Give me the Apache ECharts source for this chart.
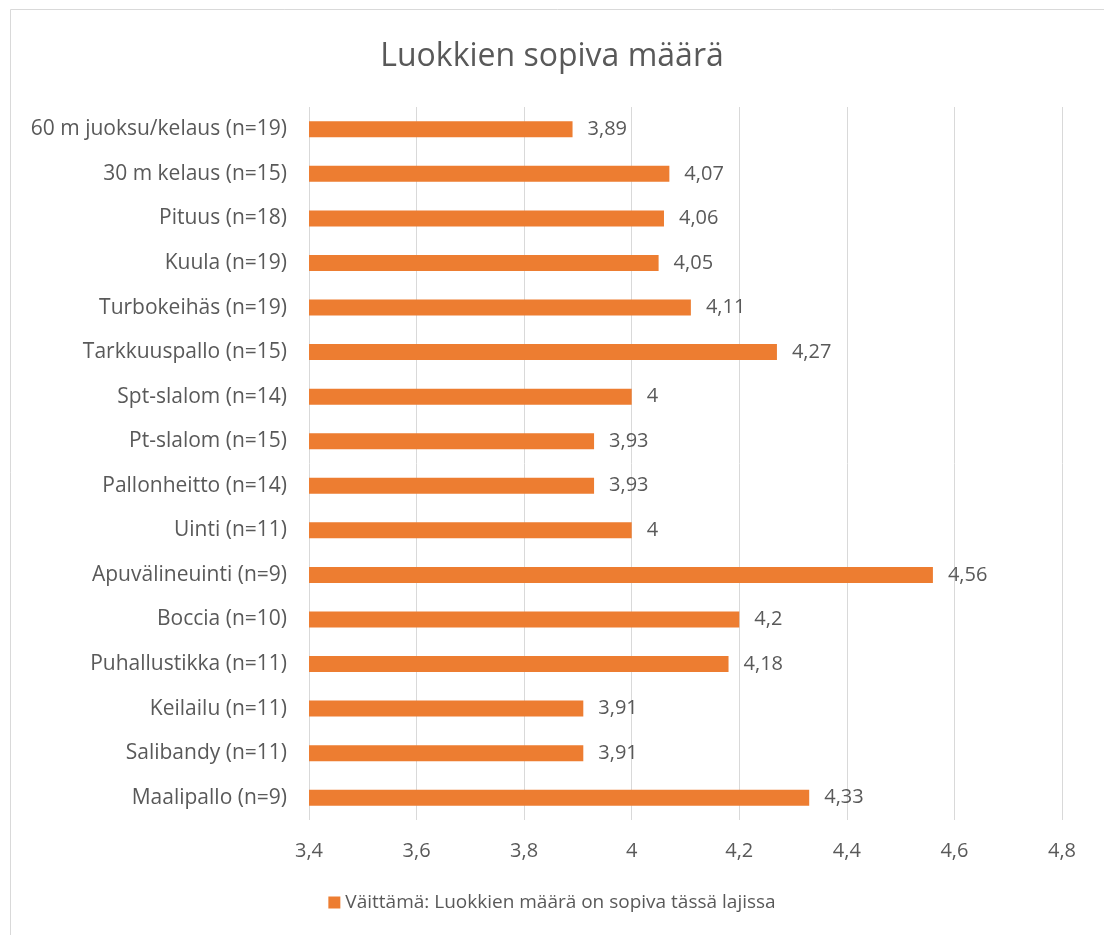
<!DOCTYPE html>
<html>
<head>
<meta charset="utf-8">
<script src="https://cdn.jsdelivr.net/npm/echarts@6/dist/echarts.min.js"></script>
<style>
  html, body { margin: 0; padding: 0; background: #fff; }
  #chart { width: 1104px; height: 935px; }
</style>
</head>
<body>
<div id="chart"></div>
<script>
var categories = [
  "60 m juoksu/kelaus (n=19)",
  "30 m kelaus (n=15)",
  "Pituus (n=18)",
  "Kuula (n=19)",
  "Turbokeihäs (n=19)",
  "Tarkkuuspallo (n=15)",
  "Spt-slalom (n=14)",
  "Pt-slalom (n=15)",
  "Pallonheitto (n=14)",
  "Uinti (n=11)",
  "Apuvälineuinti (n=9)",
  "Boccia (n=10)",
  "Puhallustikka (n=11)",
  "Keilailu (n=11)",
  "Salibandy (n=11)",
  "Maalipallo (n=9)"
];
var values = [3.89, 4.07, 4.06, 4.05, 4.11, 4.27, 4, 3.93, 3.93, 4, 4.56, 4.2, 4.18, 3.91, 3.91, 4.33];
var seriesName = "Väittämä: Luokkien määrä on sopiva tässä lajissa";

function comma(v) {
  return String(v).replace(".", ",");
}

var textColor = "#595959";
var font = "Open Sans";

var myChart = echarts.init(document.getElementById("chart"));
var option = {
  animation: false,
  textStyle: { fontFamily: font },
  title: {
    text: "Luokkien sopiva määrä",
    left: "center",
    top: 36,
    textStyle: { fontFamily: font, fontSize: 32, fontWeight: "normal", color: textColor }
  },
  graphic: [
    {
      type: "rect",
      shape: { x: 10.5, y: 9.5, width: 1200, height: 1000 },
      style: { fill: "none", stroke: "#d9d9d9", lineWidth: 1 },
      silent: true
    }
  ],
  legend: {
    bottom: 18,
    left: "center",
    itemWidth: 12,
    itemHeight: 12,
    itemGap: 5,
    icon: "rect",
    textStyle: { fontFamily: font, fontSize: 19, color: textColor },
    data: [seriesName]
  },
  grid: {
    left: 309,
    right: 42,
    top: 107,
    bottom: 115,
    containLabel: false
  },
  xAxis: {
    type: "value",
    min: 3.4,
    max: 4.8,
    interval: 0.2,
    axisLine: { show: false },
    axisTick: { show: false },
    splitLine: { lineStyle: { color: "#d9d9d9", width: 1 } },
    axisLabel: {
      margin: 21,
      fontFamily: font,
      fontSize: 20,
      color: textColor,
      formatter: function (v) { return comma(Math.round(v * 10) / 10); }
    }
  },
  yAxis: {
    type: "category",
    inverse: true,
    data: categories,
    axisLine: { show: false },
    axisTick: { show: false },
    axisLabel: { margin: 22, fontFamily: font, fontSize: 21, color: textColor }
  },
  series: [
    {
      name: seriesName,
      type: "bar",
      data: values,
      barWidth: 16,
      itemStyle: { color: "#ED7D31" },
      label: {
        show: true,
        position: "right",
        distance: 15,
        fontFamily: font,
        fontSize: 20,
        color: textColor,
        formatter: function (p) { return comma(p.value); }
      }
    }
  ]
};
myChart.setOption(option);
</script>
</body>
</html>
